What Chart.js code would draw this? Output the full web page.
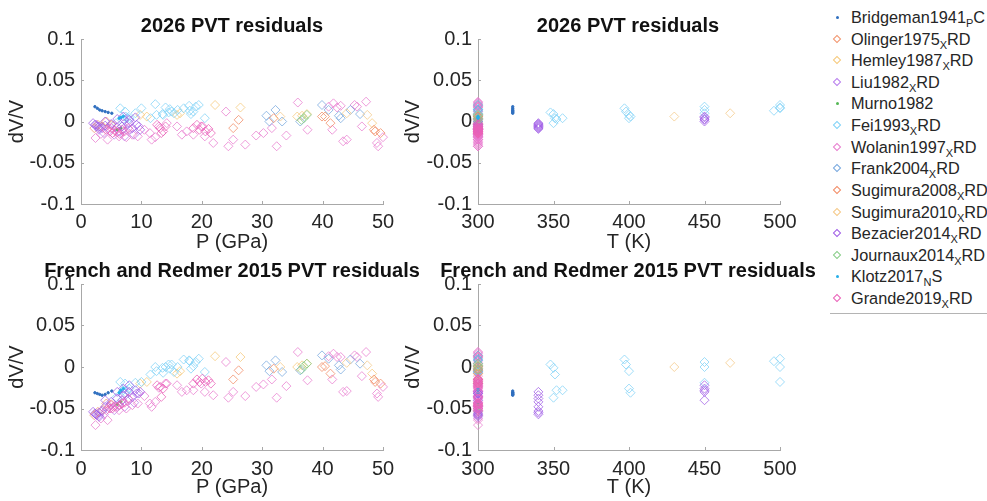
<!DOCTYPE html>
<html>
<head>
<meta charset="utf-8">
<script src="https://cdn.jsdelivr.net/npm/chart.js@4.4.1/dist/chart.umd.min.js"></script>
<style>
  body { margin: 0; background: #fff; width: 987px; height: 501px; overflow: hidden; position: relative;
         font-family: "Liberation Sans", Arial, sans-serif; }
  canvas { position: absolute; }
  #legend { position: absolute; left: 830px; top: 0; width: 157px; height: 313px; border-bottom: 1px solid #b4b4b4; background: #fff; }
  .item { position: absolute; left: 0; height: 20px; line-height: 20px; font-size: 16.3px; color: #262626; white-space: nowrap; }
  .item .mk { position: absolute; left: 4px; top: 7px; width: 6px; height: 6px; box-sizing: border-box; transform: rotate(45deg); border: 1px solid; }
  .item .dot { position: absolute; left: 6px; top: 9px; width: 2.5px; height: 2.5px; border-radius: 1.5px; }
  .item .tx { position: absolute; left: 21px; top: 0; }
  .item sub { font-size: 11px; vertical-align: -4px; line-height: 0; }
</style>
</head>
<body>
<canvas id="c1" width="464" height="260" style="left:0;top:0"></canvas>
<canvas id="c2" width="464" height="260" style="left:396px;top:0"></canvas>
<canvas id="c3" width="464" height="251" style="left:0;top:250px"></canvas>
<canvas id="c4" width="464" height="251" style="left:396px;top:250px"></canvas>
<div id="legend"></div>
<script>
// each point: [P (GPa), T (K), dV/V 2026, dV/V French & Redmer 2015]
const bridgeman1941 = [[2.3,323,0.018,-0.031],[2.7,323,0.016,-0.032],[3.1,323,0.014,-0.033],[3.5,323,0.013,-0.034],
  [4.0,323,0.012,-0.033],[4.5,323,0.011,-0.031],[5.1,323,0.010,-0.029]];
const olinger1975 = [[2.2,300,-0.008,-0.058],[2.8,300,-0.004,-0.054],[3.5,300,-0.006,-0.052],[4.2,300,0.000,-0.044],[5.0,300,-0.004,-0.045]];
const hemley1987 = [[9.8,300,0.008,-0.020],[10.9,300,0.006,-0.018],[15.9,300,0.008,-0.008],[16.4,300,0.010,-0.005],
  [22.2,300,0.020,0.013],[26.4,300,0.017,0.012],[35.8,300,0.006,0.000],[36.6,300,0.007,0.002],[37.4,300,0.009,0.004],[48.2,300,-0.002,-0.008]];
const liu1982 = [[3.0,300,-0.010,-0.058],[3.8,300,-0.014,-0.057],[4.6,300,-0.008,-0.048],[5.5,300,-0.016,-0.052],[6.3,300,-0.012,-0.046],
  [7.2,300,-0.018,-0.048],[8.0,300,-0.010,-0.040],[8.8,300,-0.016,-0.043],[9.6,300,-0.006,-0.032]];
const murno1982 = [[6.0,300,-0.010,-0.045],[6.6,300,-0.008,-0.042]];
const fei1993 = [[6.5,300,0.016,-0.018],[7.3,300,0.012,-0.020],[12.3,300,0.021,0.000],[13.6,300,0.008,-0.007],[14.7,300,0.015,-0.002],
  [15.4,300,0.010,-0.006],[17.9,300,0.019,0.008],[18.6,300,0.012,0.001],[18.2,300,0.009,-0.002],[20.5,300,0.004,-0.006],
  [14.5,348,0.011,0.003],[13.5,350,0.009,-0.001],[11.5,351,0.004,-0.009],[7.0,352,0.003,-0.028],[5.8,350,-0.002,-0.037],[7.6,356,0.004,-0.028],
  [17.0,397,0.016,0.009],[15.0,398,0.012,0.003],[12.5,400,0.008,-0.005],[8.0,400,0.004,-0.026],[7.4,401,0.006,-0.031],
  [19.0,450,0.018,0.006],[16.0,450,0.014,0.000],[9.0,450,0.010,-0.019],
  [18.0,496,0.013,0.007],[19.5,500,0.020,0.010],[14.0,500,0.017,0.000],[10.0,500,0.016,-0.018]];
const wolanin1997 = [[2.4,300,-0.020,-0.070],[3.3,300,-0.015,-0.062],[4.4,300,-0.022,-0.064],[5.4,300,-0.005,-0.048],[6.3,300,-0.018,-0.052],
  [7.5,300,-0.019,-0.050],[8.5,300,-0.016,-0.046],[9.4,300,-0.018,-0.044],[10.5,300,-0.010,-0.035],[11.4,300,-0.014,-0.044],
  [11.7,300,-0.022,-0.048],[12.3,300,-0.019,-0.042],[12.9,300,-0.006,-0.025],[14.2,300,-0.002,-0.020],[15.9,300,-0.006,-0.022],
  [16.7,300,-0.016,-0.030],[17.5,300,-0.012,-0.028],[18.6,300,-0.016,-0.028],[19.9,300,-0.006,-0.020],[20.5,300,-0.018,-0.030],
  [21.9,300,-0.026,-0.034],[24.0,300,0.012,0.006],[24.4,300,-0.030,-0.037],[25.2,300,-0.022,-0.030],[27.2,300,-0.028,-0.035],
  [29.0,300,-0.017,-0.024],[30.2,300,-0.014,-0.021],[31.6,300,-0.008,-0.015],[32.4,300,-0.030,-0.037],[34.0,300,-0.017,-0.023],
  [35.9,300,0.023,0.018],[37.5,300,-0.010,-0.016],[41.0,300,0.018,0.013],[41.8,300,0.022,0.016],[42.4,300,0.017,0.012],
  [43.0,300,0.019,0.012],[41.6,300,-0.010,-0.015],[43.4,300,-0.024,-0.030],[44.0,300,-0.022,-0.029],[45.3,300,0.020,0.014],
  [45.7,300,0.018,0.012],[47.2,300,0.024,0.018],[46.5,300,-0.006,-0.011],[49.0,300,-0.026,-0.032],[49.2,300,-0.030,-0.036],[50.0,300,-0.019,-0.024]];
const frank2004 = [[30.7,300,0.007,0.002],[31.2,300,0.000,-0.005],[32.2,300,0.014,0.008],[33.3,300,0.000,-0.006],[36.3,300,0.000,-0.004],
  [39.9,300,0.020,0.014],[41.0,300,0.014,0.010],[42.7,300,0.007,0.002],[43.0,300,0.004,-0.003],[44.6,300,0.014,0.009],[46.2,300,0.009,0.004]];
const sugimura2008 = [[25.2,300,-0.008,-0.015],[26.1,300,0.002,-0.004],[31.9,300,0.004,-0.002],[39.9,300,0.006,0.000],[40.4,300,0.006,0.001],
  [41.3,300,-0.002,-0.008],[48.5,300,-0.010,-0.015],[48.7,300,-0.012,-0.018],[49.6,300,-0.014,-0.020]];
const sugimura2010 = [[33.0,430,0.006,0.000],[44.0,467,0.010,0.005],[47.4,300,0.008,0.002]];
const bezacier2014 = [[2.0,300,-0.002,-0.054],[2.3,300,-0.004,-0.056],[2.6,300,-0.006,-0.058],[3.0,300,-0.008,-0.060],[6.8,300,-0.006,-0.040],
  [7.2,300,0.002,-0.032],[8.5,300,-0.008,-0.036],[9.2,300,-0.004,-0.032],[9.8,300,-0.010,-0.030],
  [2.5,340,-0.004,-0.057],[3.0,340,-0.006,-0.055],[3.5,340,-0.008,-0.053],[4.0,340,-0.005,-0.048],[5.0,340,-0.003,-0.042],
  [6.0,340,-0.007,-0.038],[7.0,340,-0.009,-0.034],[8.0,340,-0.002,-0.030],
  [4.0,450,0.000,-0.040],[6.0,450,0.003,-0.030],[7.0,450,0.006,-0.026],[8.0,450,0.002,-0.022],[9.0,450,0.005,-0.028]];
const journaux2014 = [[36.5,300,0.002,-0.003],[36.9,300,0.004,0.001],[37.4,300,0.008,0.004]];
const klotz2017 = [[6.3,300,0.004,-0.031],[6.6,300,0.005,-0.028],[7.0,300,0.006,-0.026]];
const grande2019 = [[4.2,300,-0.010,-0.052],[4.8,300,-0.012,-0.050],[5.0,300,-0.008,-0.046],[5.2,300,-0.014,-0.050],[5.6,300,-0.011,-0.047],
  [6.0,300,-0.013,-0.048],[6.4,300,-0.015,-0.046],[6.8,300,-0.010,-0.044],[7.2,300,-0.012,-0.043],[7.8,300,-0.008,-0.038],
  [12.6,300,-0.004,-0.022],[13.1,300,-0.008,-0.024],[13.6,300,-0.012,-0.026],[14.0,300,-0.006,-0.020],[13.3,300,-0.014,-0.036],
  [18.6,300,-0.008,-0.020],[19.2,300,-0.004,-0.015],[19.6,300,-0.010,-0.018],[20.1,300,-0.006,-0.014],[20.6,300,-0.012,-0.018],
  [21.1,300,-0.009,-0.016],[21.5,300,-0.014,-0.020]];

const seriesData = [bridgeman1941, olinger1975, hemley1987, liu1982, murno1982, fei1993, wolanin1997,
  frank2004, sugimura2008, sugimura2010, bezacier2014, journaux2014, klotz2017, grande2019];
const seriesNames = [['Bridgeman1941','P','C'],['Olinger1975','X','RD'],['Hemley1987','X','RD'],['Liu1982','X','RD'],['Murno1982','',''],
  ['Fei1993','X','RD'],['Wolanin1997','X','RD'],['Frank2004','X','RD'],['Sugimura2008','X','RD'],['Sugimura2010','X','RD'],
  ['Bezacier2014','X','RD'],['Journaux2014','X','RD'],['Klotz2017','N','S'],['Grande2019','X','RD']];
const seriesMarker = ['dot','diamond','diamond','diamond','dot','diamond','diamond','diamond','diamond','diamond','diamond','diamond','dot','diamond'];
const seriesColor = ['#2f6fbf','#f2946c','#f6c879','#b77ded','#55b855','#7fd2f7','#e87ccf','#76a7de','#f28a63','#f5c886','#9f5be6','#86cc86','#26aee8','#ea5fb8'];

const FONT = '"Liberation Sans", Arial, sans-serif';
const TXT = '#262626';
const AXIS = '#a8a8a8';

const innerTicks = {
  id: 'innerTicks',
  afterDraw(chart) {
    const { ctx, chartArea: a, scales: { x, y } } = chart;
    ctx.save();
    ctx.strokeStyle = AXIS; ctx.lineWidth = 1;
    ctx.beginPath();
    x.ticks.forEach(t => { const px = Math.round(x.getPixelForValue(t.value)) + 0.5; ctx.moveTo(px, a.bottom); ctx.lineTo(px, a.bottom - 3); });
    y.ticks.forEach(t => { const py = Math.round(y.getPixelForValue(t.value)) + 0.5; ctx.moveTo(a.left, py); ctx.lineTo(a.left + 3, py); });
    ctx.stroke();
    ctx.restore();
  }
};

function makePanel(id, xi, yi, title, xLabel, xMin, xMax, xStep, yw, top) {
  const datasets = seriesData.map((arr, i) => {
    const dot = seriesMarker[i] === 'dot';
    return {
      label: seriesNames[i][0],
      data: arr.map(p => ({ x: p[xi], y: p[yi] })),
      pointStyle: dot ? 'circle' : 'rectRot',
      pointRadius: dot ? 1.2 : 4.5,
      borderWidth: 1,
      borderColor: seriesColor[i] + (dot ? '' : 'c0'),
      backgroundColor: dot ? seriesColor[i] : 'transparent',
      showLine: false,
      clip: false,
      order: seriesData.length - i,
    };
  });
  new Chart(document.getElementById(id), {
    type: 'scatter',
    data: { datasets },
    plugins: [innerTicks],
    options: {
      responsive: false, animation: false,
      layout: { padding: 0 },
      plugins: {
        legend: { display: false }, tooltip: { enabled: false },
        title: { display: true, text: title, color: '#111', font: { family: FONT, size: 20, weight: 'bold' },
                 padding: { top: top ? 14 : 9, bottom: 1 } },
      },
      scales: {
        x: {
          type: 'linear', min: xMin, max: xMax,
          ticks: { stepSize: xStep, color: TXT, font: { family: FONT, size: 20 }, padding: top ? 6 : 7, maxRotation: 0 },
          grid: { display: false, drawTicks: false },
          border: { color: AXIS },
          title: { display: true, text: xLabel, color: TXT, font: { family: FONT, size: 20 }, padding: { top: 0, bottom: top ? 6 : 2 } },
          afterFit(s) { s.height = top ? 56 : 51; },
        },
        y: {
          min: -0.1, max: 0.1,
          ticks: { stepSize: 0.05, color: TXT, font: { family: FONT, size: 20 }, padding: 6,
                   callback: v => Math.abs(v) < 1e-9 ? '0' : String(+v.toFixed(2)) },
          grid: { display: false, drawTicks: false },
          border: { color: AXIS },
          title: { display: true, text: 'dV/V', color: TXT, font: { family: FONT, size: 20 }, padding: { top: 5.5 } },
          afterFit(s) { s.width = yw; },
        },
        // empty right-hand box so the plot sits centred under the title
        pad: {
          position: 'right', display: true,
          ticks: { display: false }, grid: { display: false, drawTicks: false }, border: { display: false },
          afterFit(s) { s.width = 464 - yw - 302; },
        },
      },
    },
  });
}

makePanel('c1', 0, 2, '2026 PVT residuals', 'P (GPa)', 0, 50, 10, 81, true);
makePanel('c2', 1, 2, '2026 PVT residuals', 'T (K)', 300, 500, 50, 82, true);
makePanel('c3', 0, 3, 'French and Redmer 2015 PVT residuals', 'P (GPa)', 0, 50, 10, 81, false);
makePanel('c4', 1, 3, 'French and Redmer 2015 PVT residuals', 'T (K)', 300, 500, 50, 82, false);

// legend with subscripts as in the original
const legend = document.getElementById('legend');
seriesNames.forEach((n, i) => {
  const row = document.createElement('div');
  row.className = 'item';
  row.style.top = (7 + i * 21.62) + 'px';
  const mk = document.createElement('span');
  if (seriesMarker[i] === 'dot') { mk.className = 'dot'; mk.style.background = seriesColor[i]; }
  else { mk.className = 'mk'; mk.style.borderColor = seriesColor[i]; }
  const tx = document.createElement('span');
  tx.className = 'tx';
  tx.innerHTML = n[0] + (n[1] ? '<sub>' + n[1] + '</sub>' + n[2] : '');
  row.appendChild(mk); row.appendChild(tx);
  legend.appendChild(row);
});
</script>
</body>
</html>
